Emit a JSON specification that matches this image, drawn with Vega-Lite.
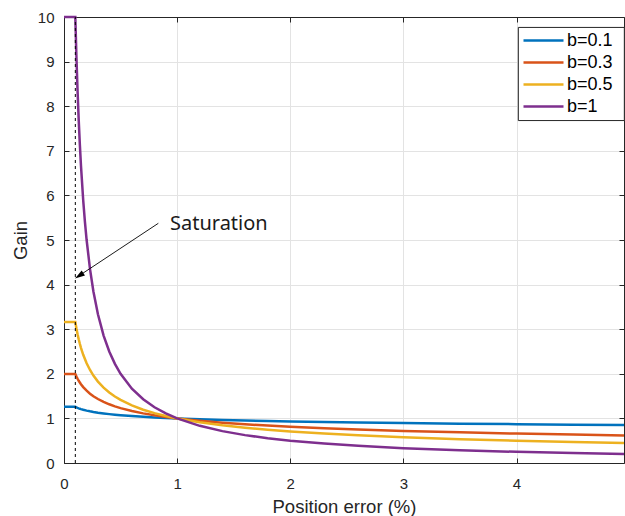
{
  "$schema": "https://vega.github.io/schema/vega-lite/v6.json",
  "width": 560,
  "height": 446,
  "autosize": {"type": "none"},
  "padding": {"left": 64, "top": 17, "right": 1, "bottom": 53},
  "background": "white",
  "config": {
    "view": {"stroke": null},
    "font": "Liberation Sans",
    "axis": {
      "domainColor": "#262626",
      "tickColor": "#262626",
      "labelColor": "#262626",
      "titleColor": "#262626",
      "labelFont": "Liberation Sans",
      "titleFont": "Liberation Sans",
      "labelFontSize": 15,
      "titleFontSize": 18.5,
      "titleFontWeight": "normal",
      "gridColor": "#e3e3e3",
      "gridWidth": 1,
      "tickSize": -5,
      "domainWidth": 1,
      "tickWidth": 1,
      "labelFlush": false,
      "labelOverlap": false
    }
  },
  "datasets": {
    "curves": [
      {"s":"b=0.1","x":0,"g":1.2589},{"s":"b=0.1","x":0.1,"g":1.2589},{"s":"b=0.1","x":0.11,"g":1.2470},{"s":"b=0.1","x":0.12,"g":1.2362},{"s":"b=0.1","x":0.13,"g":1.2263},{"s":"b=0.1","x":0.14,"g":1.2173},{"s":"b=0.1","x":0.15,"g":1.2089},{"s":"b=0.1","x":0.17,"g":1.1939},{"s":"b=0.1","x":0.2,"g":1.1746},{"s":"b=0.1","x":0.23,"g":1.1583},{"s":"b=0.1","x":0.26,"g":1.1442},{"s":"b=0.1","x":0.3,"g":1.1279},{"s":"b=0.1","x":0.35,"g":1.1107},{"s":"b=0.1","x":0.4,"g":1.0960},{"s":"b=0.1","x":0.45,"g":1.0831},{"s":"b=0.1","x":0.5,"g":1.0718},{"s":"b=0.1","x":0.6,"g":1.0524},{"s":"b=0.1","x":0.7,"g":1.0363},{"s":"b=0.1","x":0.8,"g":1.0226},{"s":"b=0.1","x":0.9,"g":1.0106},{"s":"b=0.1","x":1,"g":1},{"s":"b=0.1","x":1.2,"g":0.9819},{"s":"b=0.1","x":1.4,"g":0.9669},{"s":"b=0.1","x":1.6,"g":0.9541},{"s":"b=0.1","x":1.8,"g":0.9429},{"s":"b=0.1","x":2,"g":0.9330},{"s":"b=0.1","x":2.3,"g":0.9201},{"s":"b=0.1","x":2.6,"g":0.9089},{"s":"b=0.1","x":3,"g":0.8960},{"s":"b=0.1","x":3.5,"g":0.8823},{"s":"b=0.1","x":4,"g":0.8706},{"s":"b=0.1","x":4.5,"g":0.8604},{"s":"b=0.1","x":4.95,"g":0.8522},
      {"s":"b=0.3","x":0,"g":1.9953},{"s":"b=0.3","x":0.1,"g":1.9953},{"s":"b=0.3","x":0.11,"g":1.9390},{"s":"b=0.3","x":0.12,"g":1.8891},{"s":"b=0.3","x":0.13,"g":1.8442},{"s":"b=0.3","x":0.14,"g":1.8037},{"s":"b=0.3","x":0.15,"g":1.7668},{"s":"b=0.3","x":0.17,"g":1.7016},{"s":"b=0.3","x":0.2,"g":1.6207},{"s":"b=0.3","x":0.23,"g":1.5541},{"s":"b=0.3","x":0.26,"g":1.4980},{"s":"b=0.3","x":0.3,"g":1.4351},{"s":"b=0.3","x":0.35,"g":1.3702},{"s":"b=0.3","x":0.4,"g":1.3164},{"s":"b=0.3","x":0.45,"g":1.2707},{"s":"b=0.3","x":0.5,"g":1.2311},{"s":"b=0.3","x":0.6,"g":1.1656},{"s":"b=0.3","x":0.7,"g":1.1129},{"s":"b=0.3","x":0.8,"g":1.0692},{"s":"b=0.3","x":0.9,"g":1.0321},{"s":"b=0.3","x":1,"g":1},{"s":"b=0.3","x":1.2,"g":0.9468},{"s":"b=0.3","x":1.4,"g":0.9040},{"s":"b=0.3","x":1.6,"g":0.8685},{"s":"b=0.3","x":1.8,"g":0.8383},{"s":"b=0.3","x":2,"g":0.8123},{"s":"b=0.3","x":2.3,"g":0.7789},{"s":"b=0.3","x":2.6,"g":0.7508},{"s":"b=0.3","x":3,"g":0.7192},{"s":"b=0.3","x":3.5,"g":0.6867},{"s":"b=0.3","x":4,"g":0.6598},{"s":"b=0.3","x":4.5,"g":0.6369},{"s":"b=0.3","x":4.95,"g":0.6189},
      {"s":"b=0.5","x":0,"g":3.1623},{"s":"b=0.5","x":0.1,"g":3.1623},{"s":"b=0.5","x":0.11,"g":3.0151},{"s":"b=0.5","x":0.12,"g":2.8868},{"s":"b=0.5","x":0.13,"g":2.7735},{"s":"b=0.5","x":0.14,"g":2.6726},{"s":"b=0.5","x":0.15,"g":2.5820},{"s":"b=0.5","x":0.17,"g":2.4254},{"s":"b=0.5","x":0.2,"g":2.2361},{"s":"b=0.5","x":0.23,"g":2.0851},{"s":"b=0.5","x":0.26,"g":1.9612},{"s":"b=0.5","x":0.3,"g":1.8257},{"s":"b=0.5","x":0.35,"g":1.6903},{"s":"b=0.5","x":0.4,"g":1.5811},{"s":"b=0.5","x":0.45,"g":1.4907},{"s":"b=0.5","x":0.5,"g":1.4142},{"s":"b=0.5","x":0.6,"g":1.2910},{"s":"b=0.5","x":0.7,"g":1.1952},{"s":"b=0.5","x":0.8,"g":1.1180},{"s":"b=0.5","x":0.9,"g":1.0541},{"s":"b=0.5","x":1,"g":1},{"s":"b=0.5","x":1.2,"g":0.9129},{"s":"b=0.5","x":1.4,"g":0.8452},{"s":"b=0.5","x":1.6,"g":0.7906},{"s":"b=0.5","x":1.8,"g":0.7454},{"s":"b=0.5","x":2,"g":0.7071},{"s":"b=0.5","x":2.3,"g":0.6594},{"s":"b=0.5","x":2.6,"g":0.6202},{"s":"b=0.5","x":3,"g":0.5774},{"s":"b=0.5","x":3.5,"g":0.5345},{"s":"b=0.5","x":4,"g":0.5},{"s":"b=0.5","x":4.5,"g":0.4714},{"s":"b=0.5","x":4.95,"g":0.4495},
      {"s":"b=1","x":0,"g":10},{"s":"b=1","x":0.1,"g":10},{"s":"b=1","x":0.11,"g":9.0909},{"s":"b=1","x":0.12,"g":8.3333},{"s":"b=1","x":0.13,"g":7.6923},{"s":"b=1","x":0.14,"g":7.1429},{"s":"b=1","x":0.15,"g":6.6667},{"s":"b=1","x":0.17,"g":5.8824},{"s":"b=1","x":0.185,"g":5.4054},{"s":"b=1","x":0.2,"g":5},{"s":"b=1","x":0.23,"g":4.3478},{"s":"b=1","x":0.26,"g":3.8462},{"s":"b=1","x":0.3,"g":3.3333},{"s":"b=1","x":0.35,"g":2.8571},{"s":"b=1","x":0.4,"g":2.5},{"s":"b=1","x":0.45,"g":2.2222},{"s":"b=1","x":0.5,"g":2},{"s":"b=1","x":0.6,"g":1.6667},{"s":"b=1","x":0.7,"g":1.4286},{"s":"b=1","x":0.8,"g":1.25},{"s":"b=1","x":0.9,"g":1.1111},{"s":"b=1","x":1,"g":1},{"s":"b=1","x":1.2,"g":0.8333},{"s":"b=1","x":1.4,"g":0.7143},{"s":"b=1","x":1.6,"g":0.625},{"s":"b=1","x":1.8,"g":0.5556},{"s":"b=1","x":2,"g":0.5},{"s":"b=1","x":2.3,"g":0.4348},{"s":"b=1","x":2.6,"g":0.3846},{"s":"b=1","x":3,"g":0.3333},{"s":"b=1","x":3.5,"g":0.2857},{"s":"b=1","x":4,"g":0.25},{"s":"b=1","x":4.5,"g":0.2222},{"s":"b=1","x":4.95,"g":0.2020}
    ],
    "vline": [{"x": 0.1, "y": 0, "y2": 10}],
    "arrow": [{"x": 0.834, "y": 5.375, "x2": 0.134, "y2": 4.2}],
    "head": [{"x": 0.134, "y": 4.2}],
    "label": [{"x": 0.937, "y": 5.22, "text": "Saturation"}],
    "frame": [{"x": 4.016, "x2": 4.953, "y": 9.766, "y2": 7.678}]
  },
  "layer": [
    {
      "data": {"name": "curves"},
      "mark": {"type": "line", "strokeWidth": 2.5, "clip": false},
      "encoding": {
        "x": {"field": "x", "type": "quantitative",
              "scale": {"domain": [0, 4.95], "nice": false, "zero": false},
              "axis": {"orient": "bottom", "values": [0, 1, 2, 3, 4], "title": "Position error (%)", "labelPadding": 18, "titlePadding": 6, "grid": true}},
        "y": {"field": "g", "type": "quantitative",
              "scale": {"domain": [0, 10], "nice": false},
              "axis": {"orient": "left", "values": [0,1,2,3,4,5,6,7,8,9,10], "title": "Gain", "labelPadding": 15, "titlePadding": 7, "grid": true}},
        "color": {"field": "s", "type": "nominal",
                  "scale": {"domain": ["b=0.1", "b=0.3", "b=0.5", "b=1"], "range": ["#0072BD", "#D95319", "#EDB120", "#7E2F8E"]},
                  "legend": {"orient": "none", "legendX": 454, "legendY": 8, "title": null,
                             "symbolType": "M-1,0H3", "symbolSize": 400, "symbolStrokeWidth": 2.5,
                             "symbolOffset": 0, "labelOffset": 22,
                             "rowPadding": 1, "labelFontSize": 18, "labelFont": "Liberation Sans",
                             "labelColor": "#000000", "strokeColor": null, "fillColor": null,
                             "padding": 4, "labelLimit": 0, "cornerRadius": 0}}
      }
    },
    {
      "data": {"name": "vline"},
      "mark": {"type": "rule", "color": "#000000", "strokeWidth": 1, "strokeDash": [3, 3]},
      "encoding": {
        "x": {"field": "x", "type": "quantitative", "axis": {"orient": "top", "labels": false, "title": null, "grid": false, "values": [0, 1, 2, 3, 4], "domain": true}},
        "y": {"field": "y", "type": "quantitative", "axis": {"orient": "right", "labels": false, "title": null, "grid": false, "values": [0,1,2,3,4,5,6,7,8,9,10], "domain": true}},
        "y2": {"field": "y2"}
      }
    },
    {
      "data": {"name": "arrow"},
      "mark": {"type": "rule", "color": "#000000", "strokeWidth": 0.9},
      "encoding": {
        "x": {"field": "x", "type": "quantitative", "axis": null},
        "y": {"field": "y", "type": "quantitative", "axis": null},
        "x2": {"field": "x2"},
        "y2": {"field": "y2"}
      }
    },
    {
      "data": {"name": "head"},
      "mark": {"type": "point", "shape": "M0,-1L-0.6,1L0.6,1Z", "size": 100, "filled": true, "color": "#000000", "opacity": 1, "angle": 236.6},
      "encoding": {
        "x": {"field": "x", "type": "quantitative", "axis": null},
        "y": {"field": "y", "type": "quantitative", "axis": null}
      }
    },
    {
      "data": {"name": "label"},
      "mark": {"type": "text", "font": "Noto Sans", "fontSize": 20, "align": "left", "baseline": "alphabetic", "color": "#1a1a1a"},
      "encoding": {
        "x": {"field": "x", "type": "quantitative", "axis": null},
        "y": {"field": "y", "type": "quantitative", "axis": null},
        "text": {"field": "text"}
      }
    },
    {
      "data": {"name": "frame"},
      "mark": {"type": "rect", "fill": "white", "stroke": "#262626", "strokeWidth": 1, "clip": false},
      "encoding": {
        "x": {"field": "x", "type": "quantitative", "axis": null},
        "x2": {"field": "x2"},
        "y": {"field": "y", "type": "quantitative", "axis": null},
        "y2": {"field": "y2"}
      }
    }
  ],
  "resolve": {"axis": {"x": "independent", "y": "independent"}}
}
